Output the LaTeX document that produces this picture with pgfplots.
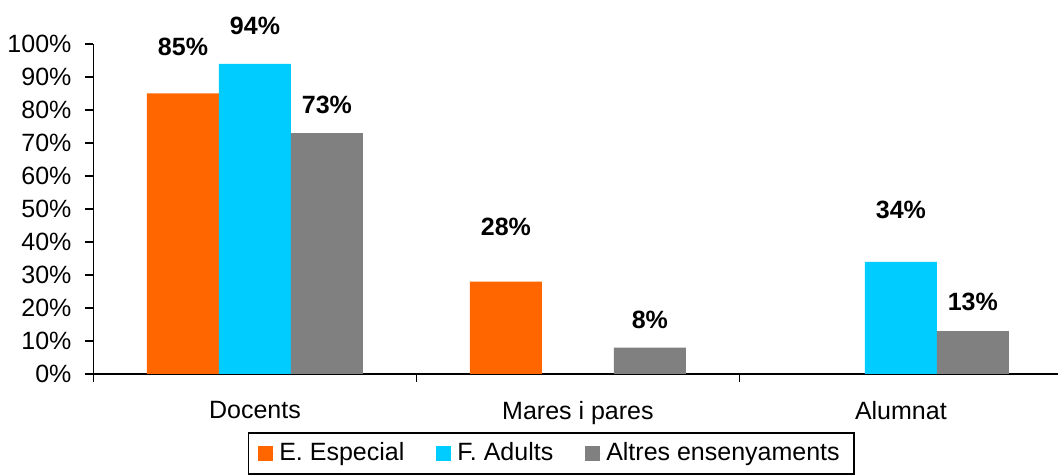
\documentclass[border=0pt]{standalone}
\usepackage{pgfplots}
\pgfplotsset{compat=1.18}
\usepackage{fontspec}
\setmainfont{Liberation Sans}
\definecolor{cOr}{HTML}{FF6600}
\definecolor{cCy}{HTML}{00CCFF}
\definecolor{cGr}{HTML}{808080}
\begin{document}
\begin{tikzpicture}
\begin{axis}[
  scale only axis, width=482pt, height=165pt,
  xmin=-0.5, xmax=2.485, ymin=0, ymax=100,
  axis x line=bottom, axis y line=left,
  axis line style={-, line width=0.8pt, black},
  clip=false,
  /pgf/number format/assume math mode=true,
  ytick={0,10,...,100},
  yticklabels={0\%,10\%,20\%,30\%,40\%,50\%,60\%,70\%,80\%,90\%,100\%},
  tick align=outside, major tick length=4pt,
  tick style={black, line width=0.8pt},
  xtick={-0.5,0.5,1.5,2.5}, xticklabels={},
  extra x ticks={0,1,2},
  extra x tick labels={Docents,Mares i pares,Alumnat},
  extra x tick style={major tick length=0pt},
  ticklabel style={font=\fontsize{12.5}{14}\selectfont},
  yticklabel style={xshift=-3.5pt},
  xticklabel style={yshift=-10pt},
  sq/.style={legend image code/.code={\fill[#1] (0pt,-3.75pt) rectangle (7.5pt,3.75pt); \path (0pt,0pt) -- (8.5pt,0pt);}},
  legend style={at={(0.4746,-0.1758)}, anchor=north, legend columns=3,
    draw=black, line width=0.8pt, font=\fontsize{12.5}{14}\selectfont,
    inner xsep=5pt, inner ysep=3pt,
    /tikz/every even column/.append style={column sep=14pt}},
  legend cell align=left,
  lbl/.style={only marks, mark=text, text mark={},
    forget plot, nodes near coords={\pgfmathprintnumber{\pgfplotspointmeta}\%},
    point meta=explicit,
    nodes near coords style={anchor=center, font=\bfseries\fontsize{12.5}{14}\selectfont}},
]
% bars
\addplot[ybar, bar width=0.2229, bar shift=-0.2229, fill=cOr, draw=none, sq=cOr]
  table {
x y
0 85
1 28
};
\addlegendentry{E. Especial}
\addplot[ybar, bar width=0.2229, bar shift=0, fill=cCy, draw=none, sq=cCy]
  table {
x y
0 94
2 34
};
\addlegendentry{F. Adults}
\addplot[ybar, bar width=0.2229, bar shift=0.2229, fill=cGr, draw=none, sq=cGr]
  table {
x y
0 73
1 8
2 13
};
\addlegendentry{Altres ensenyaments}
% value labels
\addplot[lbl] table[meta=v] {
x y v
-0.2229 99.1 85
0.7771 44.5 28
};
\addplot[lbl] table[meta=v] {
x y v
0 105.5 94
2 49.7 34
};
\addplot[lbl] table[meta=v] {
x y v
0.2229 81.5 73
1.2229 16.4 8
2.2229 21.8 13
};
\end{axis}
\pgfresetboundingbox
\path (current axis.south west) ++(-46.75pt,-50.5pt) rectangle ++(529pt,237.5pt);
\end{tikzpicture}
\end{document}
